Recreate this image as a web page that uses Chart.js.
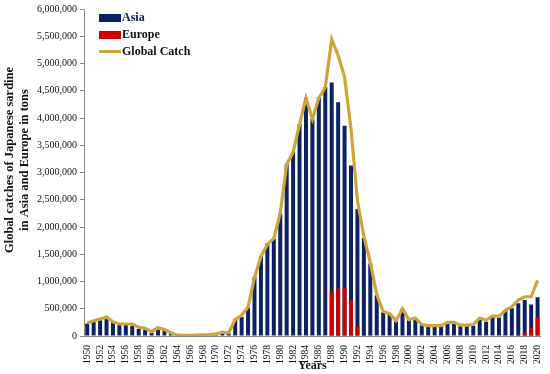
<!DOCTYPE html>
<html>
<head>
<meta charset="utf-8">
<script src="https://cdn.jsdelivr.net/npm/chart.js@4.4.1/dist/chart.umd.min.js"></script>
<style>
  html, body { margin: 0; padding: 0; background: #fff; }
  #wrap { position: relative; width: 550px; height: 374px; }
  #legend { position: absolute; left: 99px; top: 9px; font-family: "Liberation Serif", serif; font-weight: bold; font-size: 12px; }
  #legend div { height: 17px; display: flex; align-items: center; }
  #legend span.sw { display: inline-block; width: 22px; margin-right: 1px; }
</style>
</head>
<body>
<div id="wrap">
  <canvas id="myChart" width="550" height="374"></canvas>
  <div id="legend"></div>
</div>
<script>
var years = [1950,1951,1952,1953,1954,1955,1956,1957,1958,1959,
             1960,1961,1962,1963,1964,1965,1966,1967,1968,1969,
             1970,1971,1972,1973,1974,1975,1976,1977,1978,1979,
             1980,1981,1982,1983,1984,1985,1986,1987,1988,1989,
             1990,1991,1992,1993,1994,1995,1996,1997,1998,1999,
             2000,2001,2002,2003,2004,2005,2006,2007,2008,2009,
             2010,2011,2012,2013,2014,2015,2016,2017,2018,2019,2020];

// catches in tons
var asia = [230000,270000,310000,340000,260000,200000,200000,190000,130000,120000,
            60000,120000,90000,40000,10000,10000,10000,10000,20000,20000,
            20000,50000,50000,310000,350000,520000,1080000,1470000,1700000,1780000,
            2250000,3150000,3380000,3890000,4370000,3980000,4380000,4570000,4650000,4290000,
            3860000,3130000,2330000,1800000,1330000,750000,430000,410000,270000,500000,
            290000,320000,210000,180000,190000,180000,220000,240000,180000,180000,
            190000,320000,260000,350000,340000,470000,510000,600000,660000,580000,710000];

var europe = [0,0,0,0,0,0,0,0,0,0,
              0,0,0,0,0,0,0,0,0,0,
              0,0,0,0,0,0,0,0,0,0,
              0,0,0,0,0,0,0,0,810000,870000,
              890000,670000,180000,20000,15000,0,0,0,0,10000,
              0,0,0,0,0,0,0,0,0,0,
              0,0,10000,0,10000,10000,15000,25000,70000,155000,335000];

var globalCatch = [240000,280000,310000,350000,260000,220000,220000,220000,160000,140000,
                   80000,150000,120000,60000,15000,10000,10000,15000,20000,20000,
                   40000,70000,60000,300000,380000,530000,1070000,1460000,1680000,1790000,
                   2250000,3150000,3370000,3880000,4370000,3980000,4370000,4560000,5440000,5150000,
                   4750000,3800000,2480000,1830000,1350000,760000,450000,410000,280000,500000,
                   300000,330000,210000,190000,190000,190000,250000,250000,200000,200000,
                   210000,330000,290000,370000,360000,470000,540000,660000,720000,720000,1020000];

var yTicksMax = 6000000;
var yTickStep = 500000;

var navy = '#0b2265';
var red = '#cc0000';
var gold = '#cfa53a';
var serif = '"Liberation Serif", "Times New Roman", serif';
var shift = '        '; // leading spaces push the y title up a bit, like the original

var ctx = document.getElementById('myChart').getContext('2d');
var myChart = new Chart(ctx, {
    type: 'bar',
    data: {
        labels: years,
        datasets: [{
            label: 'Asia',
            data: asia,
            backgroundColor: navy,
            barPercentage: 0.62,
            categoryPercentage: 1,
            grouped: false,
            order: 3
        }, {
            label: 'Europe',
            data: europe,
            backgroundColor: red,
            barPercentage: 0.62,
            categoryPercentage: 1,
            grouped: false,
            order: 2
        }, {
            type: 'line',
            label: 'Global Catch',
            data: globalCatch,
            borderColor: gold,
            backgroundColor: gold,
            borderWidth: 3.2,
            pointRadius: 0,
            tension: 0,
            order: 1
        }]
    },
    options: {
        responsive: false,
        animation: false,
        layout: { padding: { top: 6, right: 2, left: 0, bottom: 0 } },
        plugins: {
            legend: { display: false },
            tooltip: { enabled: false }
        },
        scales: {
            x: {
                grid: { display: false },
                border: { display: true, color: '#888' },
                ticks: {
                    autoSkip: false,
                    maxRotation: 90,
                    minRotation: 90,
                    padding: 1,
                    color: '#111',
                    font: { family: serif, size: 9.5 },
                    callback: function (val, i) {
                        return i % 2 === 0 ? this.getLabelForValue(val) : '';
                    }
                },
                title: {
                    display: true,
                    text: 'Years',
                    color: '#111',
                    padding: { top: 0, bottom: 1 },
                    font: { family: serif, size: 12, weight: 'bold' }
                },
                afterFit: function (s) { s.height = 38; }
            },
            y: {
                min: 0,
                max: yTicksMax,
                grid: { drawOnChartArea: false, drawTicks: true, tickLength: 4, color: '#888' },
                border: { display: true, color: '#888' },
                ticks: {
                    stepSize: yTickStep,
                    padding: 3,
                    color: '#111',
                    font: { family: serif, size: 10 },
                    callback: function (v) { return v.toLocaleString('en-US'); }
                },
                title: {
                    display: true,
                    text: [shift + 'Global catches of Japanese sardine', shift + 'in Asia and Europe in tons'],
                    color: '#111',
                    padding: 2,
                    font: { family: serif, size: 12.5, weight: 'bold' }
                },
                afterFit: function (s) { s.width = 84; }
            }
        }
    }
});

// legend drawn as html, built from the datasets
var legendBox = document.getElementById('legend');
myChart.data.datasets.forEach(function (ds, i) {
    var row = document.createElement('div');
    var sw = document.createElement('span');
    sw.className = 'sw';
    sw.style.background = ds.type === 'line' ? ds.borderColor : ds.backgroundColor;
    sw.style.height = ds.type === 'line' ? '3px' : '8px';
    var txt = document.createElement('span');
    txt.textContent = ds.label;
    txt.style.color = i === 0 ? navy : '#111';
    row.appendChild(sw);
    row.appendChild(txt);
    legendBox.appendChild(row);
});
</script>
</body>
</html>
